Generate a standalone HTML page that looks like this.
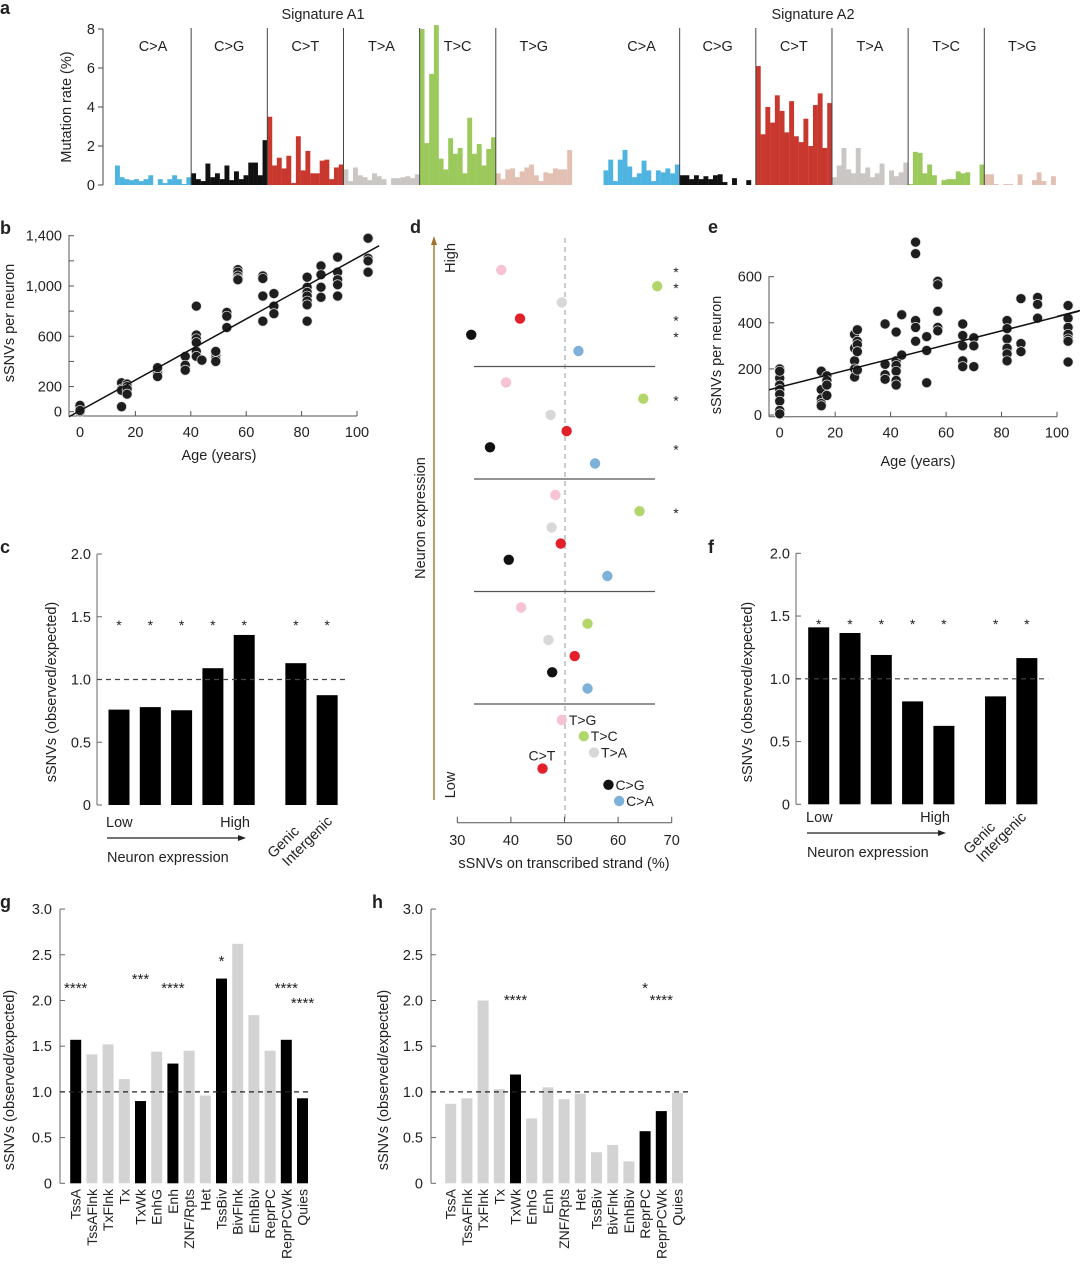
<!DOCTYPE html>
<html><head><meta charset="utf-8"><style>
body{margin:0;background:#fff}
svg{display:block;font-family:"Liberation Sans",sans-serif;}
text{fill:#222}
</style></head><body>
<svg id="fig" width="1080" height="1264" viewBox="0 0 1080 1264" xmlns="http://www.w3.org/2000/svg">
<g font-weight="bold" font-size="18">
<text x="0" y="14">a</text>
<text x="0" y="234">b</text>
<text x="0" y="553">c</text>
<text x="410" y="233">d</text>
<text x="708" y="233">e</text>
<text x="708" y="553">f</text>
<text x="0" y="908">g</text>
<text x="372" y="908">h</text>
</g>
<g font-size="14.5">
<text x="323" y="19" text-anchor="middle">Signature A1</text>
<text x="813" y="19" text-anchor="middle">Signature A2</text>
<text transform="translate(71,107) rotate(-90)" text-anchor="middle">Mutation rate (%)</text>
<text transform="translate(14,323) rotate(-90)" text-anchor="middle">sSNVs per neuron</text>
<text x="219" y="460" text-anchor="middle">Age (years)</text>
<text transform="translate(721,355) rotate(-90)" text-anchor="middle">sSNVs per neuron</text>
<text x="918" y="466" text-anchor="middle">Age (years)</text>
<text transform="translate(56,692) rotate(-90)" text-anchor="middle">sSNVs (observed/expected)</text>
<text transform="translate(752,692) rotate(-90)" text-anchor="middle">sSNVs (observed/expected)</text>
<text transform="translate(14,1080) rotate(-90)" text-anchor="middle">sSNVs (observed/expected)</text>
<text transform="translate(388,1080) rotate(-90)" text-anchor="middle">sSNVs (observed/expected)</text>
<text transform="translate(425,518) rotate(-90)" text-anchor="middle">Neuron expression</text>
<text x="564" y="868" text-anchor="middle">sSNVs on transcribed strand (%)</text>
<text transform="translate(455,258) rotate(-90)" text-anchor="middle">High</text>
<text transform="translate(455,785) rotate(-90)" text-anchor="middle">Low</text>
<text x="106" y="827">Low</text>
<text x="250" y="827" text-anchor="end">High</text>
<text x="107" y="862">Neuron expression</text>
<text transform="translate(300,832) rotate(-45)" text-anchor="end">Genic</text>
<text transform="translate(333,822) rotate(-45)" text-anchor="end">Intergenic</text>
<text x="806" y="822">Low</text>
<text x="950" y="822" text-anchor="end">High</text>
<text x="807" y="857">Neuron expression</text>
<text transform="translate(996,828) rotate(-45)" text-anchor="end">Genic</text>
<text transform="translate(1027,818) rotate(-45)" text-anchor="end">Intergenic</text>
</g>
<line x1="107" y1="838" x2="240" y2="838" stroke="#222" stroke-width="1.2"/>
<polygon points="246,838 238,835 238,841" fill="#222"/>
<line x1="807" y1="833" x2="940" y2="833" stroke="#222" stroke-width="1.2"/>
<polygon points="946,833 938,830 938,836" fill="#222"/>
<line x1="434" y1="800" x2="434" y2="244" stroke="#a0742a" stroke-width="1.4"/>
<polygon points="434,236 431,245 437,245" fill="#a0742a"/>
<g id="marks"></g>
</svg>
<script>
// ---- Panel a data ----
const mutTypes=['C>A','C>G','C>T','T>A','T>C','T>G'];
const a1CA=[1.0,0.4,0.3,0.25,0.3,0.2,0.3,0.5,0,0.3,0.1,0.3,0.5,0.3,0.05,0.4];
const a1CG=[0.6,0.3,0.2,1.1,0.4,0.6,0.3,1.0,0.25,0.7,0.3,0.5,1.15,1.15,0.5,2.3];
const a1CT=[3.5,1.0,1.4,0.85,1.5,0.1,2.5,0.75,1.75,0.6,0.6,1.25,1.3,0.3,0.9,1.05];
const a1TA=[0.8,0.2,0.9,0.5,0.4,0.25,0.6,0.45,0.3,0,0.35,0.35,0.4,0.45,0.35,0.55];
const a1TC=[8.0,2.15,5.7,8.2,1.35,0.8,2.4,1.6,1.9,0.6,3.45,1.6,2.1,1.0,1.85,2.45];
const a1TG=[0.6,0.3,0.8,0.85,0.4,0.7,0.9,1.05,0.5,0.2,0.65,0.6,0.85,0.8,0.8,1.8];
const a2CA=[0.75,1.3,0.2,1.3,1.8,0.95,0.4,0.6,1.25,0.75,0.2,0.75,0.65,0.85,0.6,1.05];
const a2CG=[0.5,0.5,0.3,0.5,0.3,0.45,0.3,0.5,0.55,0.15,0,0.35,0,0,0.25,0];
const a2CT=[6.1,2.6,4.0,3.2,4.6,3.8,2.7,4.3,2.5,2.2,3.4,2.0,4.1,4.7,1.9,4.2];
const a2TA=[0.4,1.0,1.9,0.8,0.6,1.9,0.6,0.9,0.4,0.6,1.1,0,0.75,0.45,0.65,1.15];
const a2TC=[0.05,1.7,1.65,0.6,1.05,0.5,0,0.25,0.3,0.3,0.7,0.6,0.65,0,0,1.05];
const a2TG=[0.55,0.55,0.05,0,0.05,0.05,0,0.55,0,0,0.25,0.65,0.2,0,0.45,0];
const aTicks=[0,2,4,6,8];
// ---- Panel b data ----
const bAges=[0,0,0,0,15,15,15,15,17,17,17,17,28,28,28,28,28,38,38,38,38,42,42,42,42,42,42,44,49,49,49,49,49,53,53,53,57,57,57,57,57,66,66,66,66,70,70,70,82,82,82,82,82,82,82,87,87,87,87,93,93,93,93,93,104,104,104,104];
const bVals=[30,50,0,10,230,180,170,40,220,200,180,140,340,320,300,280,350,440,350,370,330,840,610,580,550,480,440,410,470,450,420,400,480,790,760,670,1130,1110,1080,1060,1050,1080,1060,920,720,940,840,780,1070,990,950,920,880,850,720,1160,1090,990,910,1230,1110,1050,1010,920,1380,1220,1200,1110];
const bFit=[8.6,12.15];
const bYTicks=[0,200,400,600,800,1000,1200,1400];
const bYLabels=['0','200','','600','','1,000','','1,400'];
const ageTicks=[0,20,40,60,80,100];
// ---- Panel e data ----
const eAges=[0,0,0,0,0,0,0,0,0,15,15,15,15,15,17,17,17,17,27,27,27,27,27,28,28,28,28,28,38,38,38,38,42,42,42,42,42,42,44,44,49,49,49,49,49,53,53,53,57,57,57,57,57,66,66,66,66,66,70,70,70,82,82,82,82,82,82,87,87,87,93,93,93,104,104,104,104,104,104,104];
const eVals=[200,160,130,110,90,60,20,5,190,190,110,70,50,40,170,150,130,85,350,290,235,200,165,370,320,305,275,195,395,220,175,155,360,235,215,190,150,130,435,260,750,700,410,380,320,340,280,140,580,565,450,380,365,395,345,300,235,210,335,300,210,410,375,330,290,265,235,505,310,275,510,480,420,475,420,380,350,330,320,230];
const eFit=[121,3.05];
const eYTicks=[0,200,400,600];
// ---- Panel c / f data ----
const cfCats=['Low','2','3','4','High','Genic','Intergenic'];
const cVals=[0.76,0.78,0.755,1.09,1.355,1.13,0.875];
const fVals=[1.41,1.365,1.19,0.82,0.625,0.86,1.165];
const cfTicks=[0,0.5,1.0,1.5,2.0];
const cfTickLabels=['0','0.5','1.0','1.5','2.0'];
// ---- Panel d data ----
const dTypes=['T>G','T>C','T>A','C>T','C>G','C>A'];
const dColors=['#f5c3d5','#b3d66a','#d8d8d8','#e2202a','#111111','#7db1d9'];
const dGroup1=[38.2,67.3,49.5,41.7,32.6,52.6];
const dGroup2=[39.1,64.7,47.4,50.4,36.1,55.7];
const dGroup3=[48.3,64.0,47.6,49.3,39.6,58.0];
const dGroup4=[41.9,54.3,47.0,51.9,47.7,54.3];
const dGroup5=[49.5,53.6,55.5,45.9,58.2,60.2];
const dStars1=[1,1,0,1,1,0];
const dStars2=[0,1,0,0,1,0];
const dStars3=[0,1,0,0,0,0];
const dStars4=[0,0,0,0,0,0];
const dXTicks=[30,40,50,60,70];
// ---- Panel g / h data ----
const ghCats=['TssA','TssAFlnk','TxFlnk','Tx','TxWk','EnhG','Enh','ZNF/Rpts','Het','TssBiv','BivFlnk','EnhBiv','ReprPC','ReprPCWk','Quies'];
const gVals=[1.57,1.41,1.52,1.14,0.9,1.44,1.31,1.45,0.96,2.24,2.62,1.84,1.45,1.57,0.93];
const gSig=[1,0,0,0,1,0,1,0,0,1,0,0,0,1,1];
const gStars=['****','','','','***','','****','','','*','','','','****','****'];
const gStarVals=[2.2,0,0,0,2.3,0,2.2,0,0,2.5,0,0,0,2.2,2.04];
const hVals=[0.87,0.93,2.0,1.03,1.19,0.71,1.05,0.92,0.98,0.34,0.42,0.24,0.57,0.79,0.99];
const hSig=[0,0,0,0,1,0,0,0,0,0,0,0,1,1,0];
const hStars=['','','','','****','','','','','','','','*','****',''];
const hStarVals=[0,0,0,0,2.07,0,0,0,0,0,0,0,2.2,2.07,0];
const ghTicks=[0,0.5,1.0,1.5,2.0,2.5,3.0];
const ghTickLabels=['0','0.5','1.0','1.5','2.0','2.5','3.0'];

const NS='http://www.w3.org/2000/svg';
const root=document.getElementById('marks');
function mk(tag,attrs,txt){const e=document.createElementNS(NS,tag);for(const k in attrs)e.setAttribute(k,attrs[k]);if(txt!==undefined)e.textContent=txt;root.appendChild(e);return e;}
function line(x1,y1,x2,y2,stroke,w,dash){const o={x1:x1,y1:y1,x2:x2,y2:y2,stroke:stroke,'stroke-width':w};if(dash)o['stroke-dasharray']=dash;return mk('line',o);}
function txt(x,y,s,anchor,size){return mk('text',{x:x,y:y,'text-anchor':anchor||'middle','font-size':size||14.5},s);}

// ===== Panel a =====
const a1=[a1CA,a1CG,a1CT,a1TA,a1TC,a1TG];
const a2=[a2CA,a2CG,a2CT,a2TA,a2TC,a2TG];
const aColors=['#4fb5e0','#111111','#c9382e','#c9c6c3','#9cc95c','#e3c0b4'];
const ya=v=>185-v*19.5;
const bw=4.76;
function drawSig(sig,x0,sigName){
  sig.forEach((arr,g)=>{
    arr.forEach((v,i)=>{
      const x=x0+(g*16+i)*bw;
      const r=mk('rect',{x:x,y:ya(v),width:bw+0.15,height:185-ya(v),fill:aColors[g]});
      
      
    });
    const t=txt(x0+g*16*bw+38,51,mutTypes[g]);
    
    
    if(g>0){const s=line(x0+g*16*bw,28,x0+g*16*bw,185,'#444',1);
      
      }
  });
}
drawSig(a1,115,'a1');
drawSig(a2,603.5,'a2');
{const ax=line(103,29,103,185,'#444',1);

}
aTicks.forEach(v=>{const tk=line(98,ya(v),103,ya(v),'#444',1);
  
  
  const t=txt(95,ya(v)+5,String(v),'end');
  
  });

// ===== scatter helper =====
function scatter(ages,vals,fit,xs,ys,x0,x1,yTop,yBot,yTicks,yLabels,yAxX,xAxY,pname){
  const ya1=line(yAxX,yTop,yAxX,xAxY,'#555',1);
  
  
  const xa1=line(yAxX,xAxY,x1,xAxY,'#555',1);
  
  
  yTicks.forEach((v,i)=>{const tk=line(yAxX,ys(v),yAxX+5,ys(v),'#555',1);
    
    
    if(yLabels[i]){const t=txt(yAxX-7,ys(v)+5,yLabels[i],'end');
      
      }});
  ageTicks.forEach(a=>{const tk=line(xs(a),xAxY,xs(a),xAxY-5,'#555',1);
    
    
    const t=txt(xs(a),xAxY+21,String(a));
    
    });
  ages.forEach((a,i)=>{const c=mk('circle',{cx:xs(a),cy:ys(vals[i]),r:5,fill:'#1e1e1e',stroke:'#ddd','stroke-width':0.7});
    
    });
  const fl=line(xs(x0),ys(fit[0]+fit[1]*x0),xs(108),ys(fit[0]+fit[1]*108),'#111',1.5);
  
  
}
scatter(bAges,bVals,bFit,a=>80+a*2.77,v=>411.7-v*0.1257,-4,357,235,416,bYTicks,bYLabels,69,416,'b');
scatter(eAges,eVals,eFit,a=>779.7+a*2.773,v=>415-v*0.2305,-3.8,1057,276,416.7,eYTicks,['0','200','400','600'],769,416.7,'e');
{const ex=line(1057,415-(eFit[0]+eFit[1]*100.5)*0.2305,1080,415-(eFit[0]+eFit[1]*109)*0.2305,'#111',1.5);

}

// ===== bar panels c / f =====
function cfPanel(vals,axX,y0,x0,pname){
  const ys=v=>y0-v*125.5;
  const slot=i=>i<5?i:i+0.65;
  const ax=line(axX,ys(2),axX,y0,'#666',1);
  
  
  cfTicks.forEach((v,i)=>{const tk=line(axX,ys(v),axX+5,ys(v),'#666',1);
    
    
    const t=txt(axX-6,ys(v)+5,cfTickLabels[i],'end');
    
    });
  vals.forEach((v,i)=>{const cx=x0+slot(i)*31.3;
    const r=mk('rect',{x:cx-10.5,y:ys(v),width:21,height:y0-ys(v),fill:'#000'});
    
    
    const s=txt(cx,ys(1.5)+13,'*','middle',14);
    
    });
  const d=line(axX,ys(1),x0+7.65*31.3-10,ys(1),'#444',1.2,'5,4');
  
  
}
cfPanel(cVals,97,805,119,'c');
cfPanel(fVals,796,804.3,818.7,'f');

// ===== Panel d =====
const xd=v=>457.3+(v-30)*5.36;
const dGroups=[dGroup1,dGroup2,dGroup3,dGroup4,dGroup5];
const dStars=[dStars1,dStars2,dStars3,dStars4];
{const dl=line(565,238,565,822,'#aaa',1.2,'5,4');

}
dGroups.forEach((grp,g)=>{
  grp.forEach((v,r)=>{const cy=270+g*112.5+r*16.2;
    const c=mk('circle',{cx:xd(v),cy:cy,r:5.2,fill:dColors[r]});
    
    
    if(g<4&&dStars[g][r]){const s=txt(676,cy+7,'*','middle',14);
      
      }
    if(g===4){const lx=(r===3)?xd(v)-14:xd(v)+7;const ly=(r===3)?cy-8:cy+5;
      const t=txt(lx,ly,dTypes[r],'start',14);
      
      }
  });
  if(g<4){const sp=line(474,270+g*112.5+96.5,655,270+g*112.5+96.5,'#555',1.2);
    
    }
});
{const xa=line(457.3,822.7,671.7,822.7,'#555',1);

}
dXTicks.forEach(v=>{const tk=line(xd(v),822.7,xd(v),816.7,'#555',1);
  
  
  const t=txt(xd(v),845,String(v));
  
  });

// ===== Panels g / h =====
function ghPanel(vals,sig,stars,starVals,axX,x0,xEnd,pname){
  const ys=v=>1183.3-v*91.4;
  const ax=line(axX,ys(3),axX,1183.3,'#666',1);
  
  
  ghTicks.forEach((v,i)=>{const tk=line(axX,ys(v),axX+5,ys(v),'#666',1);
    
    
    const t=txt(axX-8,ys(v)+5,ghTickLabels[i],'end');
    
    });
  vals.forEach((v,i)=>{const cx=x0+i*16.2;
    const r=mk('rect',{x:cx-5.5,y:ys(v),width:11,height:1183.3-ys(v),fill:sig[i]?'#000':'#d3d3d3'});
    
    
    const t=mk('text',{transform:'translate('+(cx+5)+',1189) rotate(-90)','text-anchor':'end','font-size':14},ghCats[i]);
    
    
    if(stars[i]){const s=txt(cx,ys(starVals[i])+11,stars[i],'middle',15);
      
      }
  });
  const d=line(axX,ys(1),xEnd,ys(1),'#222',1.2,'5,4');
  
  
}
ghPanel(gVals,gSig,gStars,gStarVals,60,75.7,311,'g');
ghPanel(hVals,hSig,hStars,hStarVals,431,450.7,692,'h');
</script>
</body></html>
